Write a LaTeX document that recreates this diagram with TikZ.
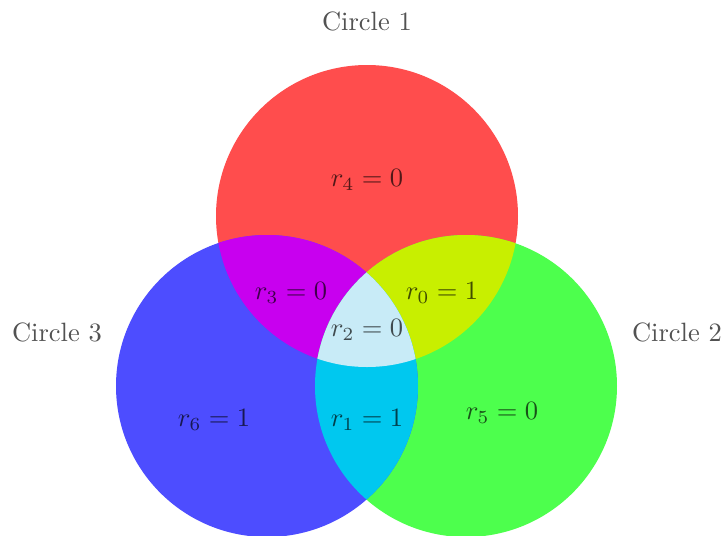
\documentclass[tikz,border=0pt]{standalone}
\begin{document}
\begin{tikzpicture}[x=0.3774pt,y=-0.3774pt,
  lbl/.style={text=black,text opacity=0.68,inner sep=0pt,font=\fontsize{10}{12}\selectfont}]
\definecolor{cred}{HTML}{FF4D4D}
\definecolor{cgreen}{HTML}{4DFF4D}
\definecolor{cblue}{HTML}{4D4DFF}
\definecolor{crb}{HTML}{C800EF}
\definecolor{crg}{HTML}{C8EF00}
\definecolor{cgb}{HTML}{00C8EF}
\definecolor{call}{HTML}{C8EBF7}
\useasboundingbox (0,0) rectangle (723,536);
\def\R{151}
\coordinate (c1) at (367,216);
\coordinate (c2) at (466,386);
\coordinate (c3) at (267,386);
\fill[cred] (c1) circle[radius=\R];
\fill[cgreen] (c2) circle[radius=\R];
\fill[cblue] (c3) circle[radius=\R];
\begin{scope}
  \clip (c1) circle[radius=\R];
  \fill[crb] (c3) circle[radius=\R];
  \fill[crg] (c2) circle[radius=\R];
\end{scope}
\begin{scope}
  \clip (c2) circle[radius=\R];
  \fill[cgb] (c3) circle[radius=\R];
\end{scope}
\begin{scope}
  \clip (c1) circle[radius=\R];
  \clip (c2) circle[radius=\R];
  \fill[call] (c3) circle[radius=\R];
\end{scope}
\node[lbl] (t1) at (367,21) {Circle 1};
\node[lbl] (t2) at (677,332) {Circle 2};
\node[lbl] (t3) at (57,332) {Circle 3};
\node[lbl] (r4) at (367,180) {$r_4=0$};
\node[lbl] (r3) at (291,293) {$r_3=0$};
\node[lbl] (r0) at (442,293) {$r_0=1$};
\node[lbl] (r2) at (367,330) {$r_2=0$};
\node[lbl] (r6) at (214,420) {$r_6=1$};
\node[lbl] (r1) at (367,420) {$r_1=1$};
\node[lbl] (r5) at (502,413) {$r_5=0$};
\end{tikzpicture}
\end{document}
